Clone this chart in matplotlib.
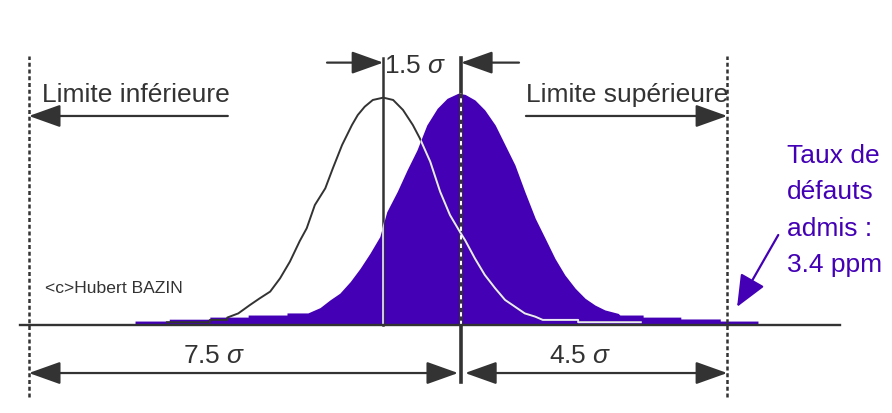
import matplotlib
matplotlib.use('Agg')
import matplotlib.pyplot as plt
from matplotlib import font_manager

# x in sigma units (0 = mean of the shifted process), y = height relative to the peak
fill_x = [-5.62, -5.62, -5.03, -5.03, -4.33, -4.33, -3.67, -3.67, -3.0, -3.0, -2.64,
          -2.43, -2.26, -2.09, -1.91, -1.74, -1.57, -1.40, -1.28, -1.10, -0.93, -0.76, -0.59,
          -0.41, -0.24, -0.05, 0.07, 0.24, 0.41, 0.59, 0.76, 0.93, 1.10, 1.28, 1.45, 1.62,
          1.79, 1.97, 2.14, 2.31, 2.48, 2.71, 2.74, 3.14, 3.14, 3.79, 3.79, 4.47, 4.47,
          5.12, 5.12]
fill_h = [0, 0.017, 0.017, 0.025, 0.025, 0.034, 0.034, 0.043, 0.043, 0.052, 0.052,
          0.075, 0.108, 0.137, 0.187, 0.244, 0.309, 0.381, 0.488, 0.575, 0.668, 0.754, 0.862,
          0.934, 0.977, 0.999, 0.994, 0.970, 0.927, 0.862, 0.776, 0.690, 0.575, 0.460, 0.374,
          0.287, 0.216, 0.158, 0.115, 0.086, 0.065, 0.050, 0.043, 0.043, 0.034, 0.034,
          0.026, 0.026, 0.017, 0.017, 0]

# centred process (outline only)
out_x = [-5.07, -4.33, -4.33, -4.03, -4.03, -3.84, -3.64, -3.47, -3.29, -3.12, -2.95, -2.78,
         -2.66, -2.52, -2.34, -2.21, -2.05, -1.88, -1.78, -1.66, -1.52, -1.34, -1.17, -1.0,
         -0.83, -0.71, -0.53, -0.36, -0.19, -0.02, 0.07, 0.24, 0.41, 0.59, 0.76, 0.93, 1.10,
         1.28, 1.41, 2.02, 2.02, 3.10]
out_h = [0.012, 0.012, 0.022, 0.022, 0.032, 0.050, 0.086, 0.115, 0.144, 0.201, 0.273, 0.362,
         0.417, 0.517, 0.589, 0.675, 0.776, 0.862, 0.905, 0.941, 0.970, 0.980, 0.970, 0.927,
         0.862, 0.805, 0.704, 0.575, 0.474, 0.402, 0.366, 0.287, 0.216, 0.158, 0.108, 0.079,
         0.050, 0.036, 0.022, 0.022, 0.012, 0.012]

lsl = -7.45      # limite inferieure
usl = 4.59       # limite superieure
shift = -1.34    # centre du process centre
label_lsl = "Limite inférieure"
label_usl = "Limite supérieure"
label_shift = r"1.5 $\sigma$"
label_left = r"7.5 $\sigma$"
label_right = r"4.5 $\sigma$"
note_lines = ["Taux de", "défauts", "admis :", "3.4 ppm"]
credit = "<c>Hubert BAZIN"

plt.rcParams['font.family'] = ['Liberation Sans', 'DejaVu Sans']
plt.rcParams['mathtext.fontset'] = 'custom'
plt.rcParams['mathtext.it'] = 'Liberation Sans:italic'
plt.rcParams['mathtext.rm'] = 'Liberation Sans'

dark = '#333333'
purple = '#4300B5'
pale = '#ECE8FA'

fig = plt.figure(figsize=(8.92, 4.13), dpi=100)
ax = fig.add_axes([0, 0, 1, 1])
ax.set_xlim(-7.948, 7.431)
ax.set_ylim(-0.3793, 1.4009)
ax.axis('off')

poly = ax.fill_between(fill_x, fill_h, 0, color=purple, lw=0, zorder=2)
clip = poly.get_paths()[0]

# outline curve: dark on white, pale inside the purple area (only right of the left tail)
ax.plot(out_x, out_h, color=dark, lw=1.4, zorder=3)
k = [i for i, x in enumerate(out_x) if x > -3.0]
w, = ax.plot([out_x[i] for i in k], [out_h[i] for i in k], color=pale, lw=1.4, zorder=4)
w.set_clip_path(clip, ax.transData)

top = 1.151
# mean of the centred process
ax.plot([shift, shift], [0, top], color=dark, lw=1.8, zorder=3)
w, = ax.plot([shift, shift], [0, top], color=pale, lw=1.2, zorder=4)
w.set_clip_path(clip, ax.transData)

# mean of the shifted process
ax.plot([0, 0], [-0.246, top], color=dark, lw=2.6, zorder=3)
w, = ax.plot([0, 0], [0, top], color='white', lw=1.4, ls=(0, (2.2, 2.2)), zorder=4)
w.set_clip_path(clip, ax.transData)

# limits
for x in (lsl, usl):
    ax.plot([x, x], [-0.31, 1.159], color=dark, lw=1.8, ls=(0, (1.6, 1.1)), zorder=3)

# baseline
ax.plot([-7.60, 6.53], [0, 0], color=dark, lw=1.7, zorder=5)


def arrow(x0, y0, x1, y1, style='-|>', color=dark, hw=0.5):
    ax.annotate('', xy=(x1, y1), xytext=(x0, y0),
                arrowprops=dict(arrowstyle=style + ',head_length=1.4,head_width=%s' % hw,
                                color=color, lw=1.6, shrinkA=0, shrinkB=0,
                                mutation_scale=14), zorder=6)


fs = 19
ax.text(-7.22, 0.961, label_lsl, fontsize=fs, color=dark, va='baseline')
arrow(-4.02, 0.901, lsl, 0.901)
ax.text(1.12, 0.961, label_usl, fontsize=fs, color=dark, va='baseline')
arrow(1.12, 0.901, usl, 0.901)

ax.text(-0.79, 1.086, label_shift, fontsize=fs, color=dark, va='baseline', ha='center')
arrow(-2.31, 1.131, shift, 1.131)
arrow(1.0, 1.131, 0, 1.131)

ax.text(-4.26, -0.164, label_left, fontsize=fs, color=dark, va='baseline', ha='center')
arrow(lsl, -0.207, -0.05, -0.207, style='<|-|>')
ax.text(2.05, -0.164, label_right, fontsize=fs, color=dark, va='baseline', ha='center')
arrow(0.07, -0.207, usl, -0.207, style='<|-|>')

names = {f.name for f in font_manager.fontManager.ttflist}
if 'Liberation Sans Narrow' in names:
    ax.text(-7.17, 0.138, credit, fontsize=15, color=dark, va='baseline',
            family='Liberation Sans Narrow')
else:
    ax.text(-7.17, 0.138, credit, fontsize=12.6, color=dark, va='baseline')

for i, line in enumerate(note_lines):
    ax.text(5.62, 0.698 - i * 0.1565, line, fontsize=fs, color=purple, va='baseline')
arrow(5.47, 0.388, 4.76, 0.078, color=purple, hw=0.6)

fig.savefig('out.png', dpi=100)
